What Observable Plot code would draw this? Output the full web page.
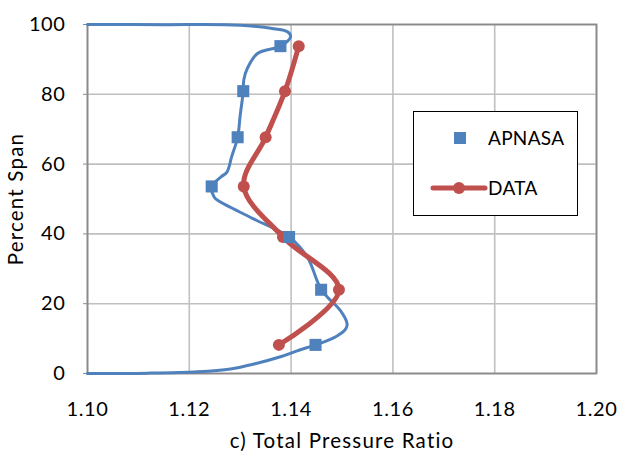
<!DOCTYPE html>
<html>
<head>
<meta charset="utf-8">
<script src="https://cdn.jsdelivr.net/npm/d3@7"></script>
<script src="https://cdn.jsdelivr.net/npm/@observablehq/plot@0.6"></script>
<style>
  body { margin: 0; background: #fff; }
  #chart { position: relative; width: 618px; height: 451px; font-family: Lato, "Open Sans", sans-serif; }
  #chart svg text { letter-spacing: 0.6px; }
  #chart svg g[aria-label="x-axis label"] text,
  #chart svg g[aria-label="y-axis label"] text { letter-spacing: 1.2px; font-size: 20.5px; }
  #legend { position: absolute; left: 413px; top: 111px; width: 163px; height: 103px;
            border: 1.3px solid #000; background: #fff; }
</style>
</head>
<body>
<div id="chart"><div id="legend"></div></div>
<script>
// Span stations (percent) where both APNASA and measured values are marked
const spanStations = [93.8, 80.9, 67.7, 53.6, 39.1, 24.0, 8.2];
const apnasaAtStations = [1.1379, 1.1306, 1.1295, 1.1244, 1.1396, 1.1459, 1.1448];
const measuredRatio = [1.1415, 1.1388, 1.1350, 1.1307, 1.1384, 1.1494, 1.1376];

// Full APNASA radial profile, read from tip (100 %) down to hub (0 %)
const apnasaProfileRatio = [1.1000, 1.1150, 1.1300, 1.1366, 1.1393, 1.1399, 1.1379, 1.1334,
  1.1314, 1.1307, 1.1306, 1.1300, 1.1295, 1.1283, 1.1274, 1.1262, 1.1244, 1.1249, 1.1258,
  1.1325, 1.1396, 1.1432, 1.1451, 1.1459, 1.1472, 1.1497, 1.1510, 1.1507, 1.1491, 1.1471,
  1.1448, 1.1412, 1.1379, 1.1327, 1.1281, 1.1216, 1.1118, 1.1000];
const apnasaProfileSpan = [100, 99.95, 99.8, 98.8, 97.9, 96.5, 93.8, 91.7,
  87.4, 84.1, 80.9, 74.0, 67.7, 62.0, 57.7, 56.3, 53.6, 50.5, 49.4,
  44.4, 39.1, 33.3, 26.6, 24.0, 21.8, 18.0, 14.2, 12.7, 10.8, 9.4,
  8.2, 6.5, 4.8, 2.7, 1.3, 0.5, 0.1, 0];

const xTicks = [1.10, 1.12, 1.14, 1.16, 1.18, 1.20];
const yTicks = [0, 20, 40, 60, 80, 100];

const seriesNames = ["APNASA", "DATA"];
const colors = { APNASA: "#4f81bd", DATA: "#c0504d" };

const profile = apnasaProfileRatio.map((r, i) => ({ ratio: r, span: apnasaProfileSpan[i] }));
const apnasaMarks = spanStations.map((s, i) => ({ ratio: apnasaAtStations[i], span: s }));
const measured = spanStations.map((s, i) => ({ ratio: measuredRatio[i], span: s }));

const fontSize = 20;

const chart = Plot.plot({
  width: 618,
  height: 451,
  marginLeft: 87,
  marginRight: 22,
  marginTop: 24,
  marginBottom: 78,
  style: { fontFamily: "Lato, 'Open Sans', sans-serif", fontSize: fontSize + "px", color: "#000", background: "#fff" },
  x: { domain: [1.10, 1.20] },
  y: { domain: [0, 100] },
  marks: [
    Plot.gridX(xTicks, { stroke: "#c0c0c0", strokeOpacity: 1, strokeWidth: 1.6 }),
    Plot.gridY(yTicks, { stroke: "#c0c0c0", strokeOpacity: 1, strokeWidth: 1.6 }),
    Plot.frame({ stroke: "#8a8a8a", strokeWidth: 1.8 }),
    Plot.axisX({
      ticks: xTicks, tickSize: 0, tickPadding: 28, tickFormat: d3.format(".2f"),
      fontSize: fontSize,
      label: "c) Total Pressure Ratio", labelAnchor: "center", labelArrow: "none", labelOffset: 74
    }),
    Plot.axisY({
      ticks: yTicks, tickSize: 4, stroke: "#8a8a8a", tickPadding: 18,
      fontSize: fontSize,
      label: "Percent Span", labelAnchor: "center", labelArrow: "none", labelOffset: 79
    }),
    Plot.line(profile, { x: "ratio", y: "span", curve: "catmull-rom", stroke: colors.APNASA, strokeWidth: 3 }),
    Plot.line(measured, { x: "ratio", y: "span", curve: "catmull-rom", stroke: colors.DATA, strokeWidth: 5, strokeLinecap: "round" }),
    Plot.dot(measured, { x: "ratio", y: "span", r: 6, fill: colors.DATA }),
    Plot.dot(apnasaMarks, { x: "ratio", y: "span", symbol: "square", r: 6.8, fill: colors.APNASA })
  ]
});

const container = document.getElementById("chart");
container.insertBefore(chart, container.firstChild);

// Legend: marker-only entry for APNASA, line-with-marker entry for DATA
const legend = d3.select("#legend").append("svg")
  .attr("width", 163).attr("height", 103)
  .style("display", "block")
  .style("font-family", "Lato, 'Open Sans', sans-serif")
  .style("font-size", "19px");

const rows = legend.selectAll("g").data(seriesNames).join("g")
  .attr("transform", (d, i) => `translate(0,${26 + i * 50})`);

rows.filter(d => d === "APNASA").append("rect")
  .attr("x", 40).attr("y", -6).attr("width", 12).attr("height", 12)
  .attr("fill", colors.APNASA);

rows.filter(d => d === "DATA").append("line")
  .attr("x1", 19).attr("x2", 71).attr("y1", 0).attr("y2", 0)
  .attr("stroke", colors.DATA).attr("stroke-width", 5).attr("stroke-linecap", "round");
rows.filter(d => d === "DATA").append("circle")
  .attr("cx", 45).attr("cy", 0).attr("r", 6).attr("fill", colors.DATA);

rows.append("text")
  .attr("x", 74).attr("dy", "0.35em")
  .attr("fill", "#000")
  .style("letter-spacing", "0.3px")
  .text(d => d);
</script>
</body>
</html>
